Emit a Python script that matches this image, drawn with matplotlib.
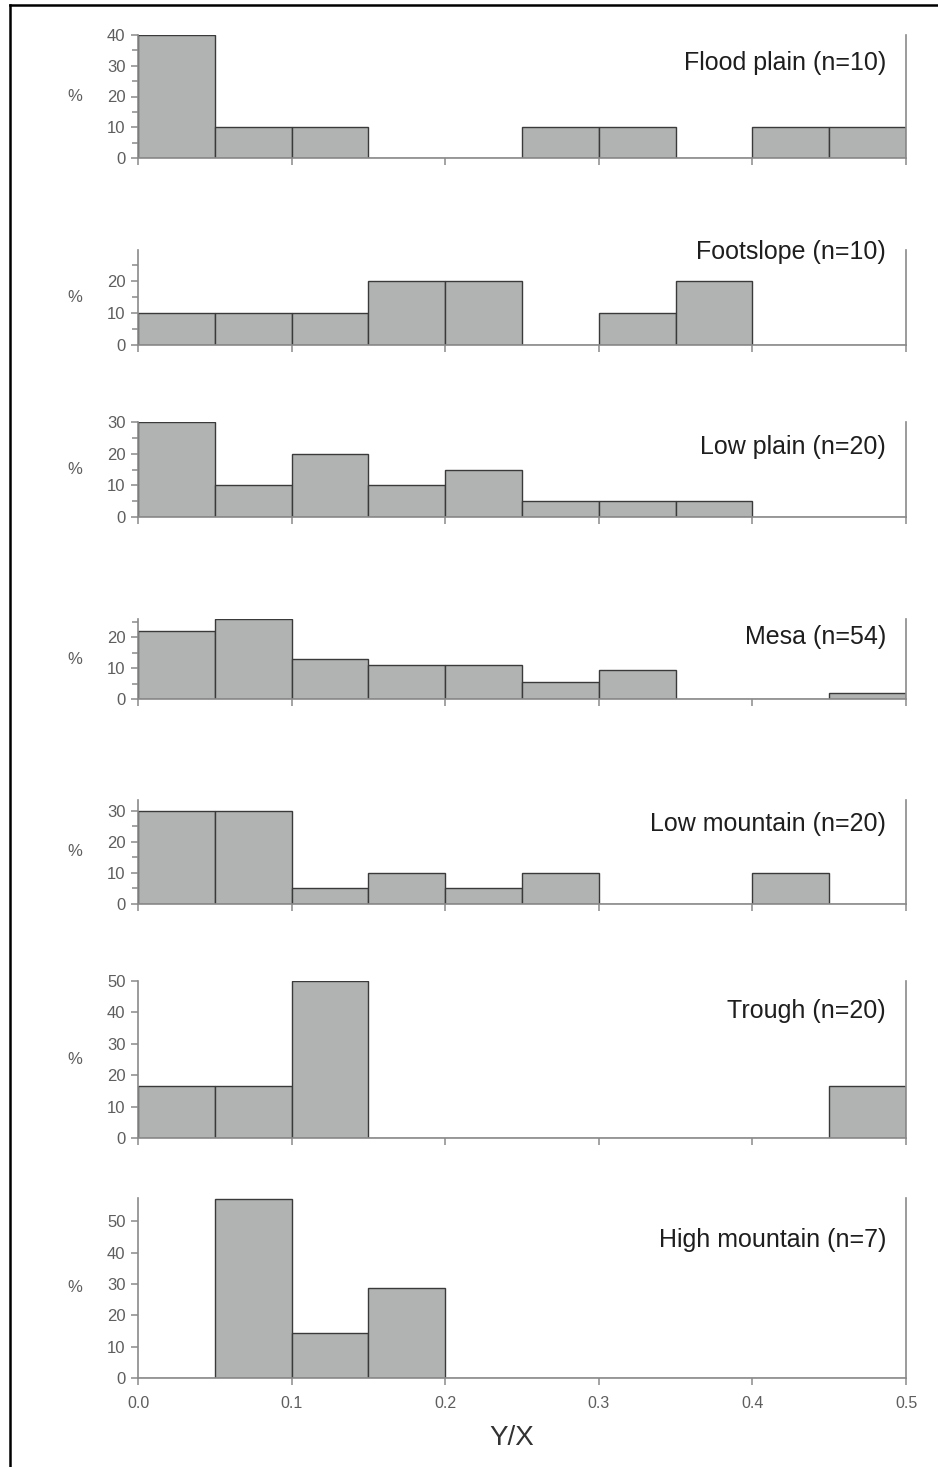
import matplotlib.pyplot as plt
from matplotlib.ticker import MultipleLocator, NullLocator
from matplotlib.lines import Line2D
import numpy as np

plt.rcParams['font.family'] = ['Liberation Sans', 'DejaVu Sans']

# Y/X histogram bins, 0.05 wide from 0.0 to 0.5
bin_edges = [0.0, 0.05, 0.10, 0.15, 0.20, 0.25, 0.30, 0.35, 0.40, 0.45, 0.50]

landforms = ["Flood plain (n=10)", "Footslope (n=10)", "Low plain (n=20)",
             "Mesa (n=54)", "Low mountain (n=20)", "Trough (n=20)",
             "High mountain (n=7)"]

flood_plain = [40, 10, 10, 0, 0, 10, 10, 0, 10, 10]
footslope = [10, 10, 10, 20, 20, 0, 10, 20, 0, 0]
low_plain = [30, 10, 20, 10, 15, 5, 5, 5, 0, 0]
mesa = [22.2, 25.9, 13.0, 11.1, 11.1, 5.6, 9.3, 0, 0, 1.85]
low_mountain = [30, 30, 5, 10, 5, 10, 0, 0, 10, 0]
trough = [16.7, 16.7, 50, 0, 0, 0, 0, 0, 0, 16.7]
high_mountain = [0, 57.1, 14.3, 28.6, 0, 0, 0, 0, 0, 0]

series = [flood_plain, footslope, low_plain, mesa, low_mountain, trough, high_mountain]

# panel layout in pixels: (zero line y, top y, y max, minor ticks, title y in data units)
W, H = 938, 1467
layout = [
    (158, 35, 40, True, 30.8),
    (345, 250, 29.8, True, 29.2),
    (517, 422, 30, True, 22),
    (699, 619, 26, True, 20),
    (904, 800, 33.5, True, 25.9),
    (1138, 981, 50, False, 40.3),
    (1378, 1198, 57.5, False, 44),
]
x0_px, x1_px = 138, 906
ax_w = x1_px - x0_px

fig = plt.figure(figsize=(W / 100, H / 100), dpi=100)

bar_fill = "#b0b3b1"
bar_edge = "#3a3a3a"
axis_col = "#8a8a8a"
tick_col = "#5e5e5e"

edges = np.array(bin_edges)
widths = np.diff(edges)

for i, (vals, name, (ybot, ytop, ymax, minor, ty)) in enumerate(zip(series, landforms, layout)):
    ax = fig.add_axes([x0_px / W, 1 - ybot / H, ax_w / W, (ybot - ytop) / H])
    ax.bar(edges[:-1], vals, width=widths, align='edge', color=bar_fill,
           edgecolor=bar_edge, linewidth=1.0, zorder=2)
    ax.set_xlim(0, 0.5)
    ax.set_ylim(0, ymax)

    ax.spines['top'].set_visible(False)
    for s in ['left', 'right', 'bottom']:
        ax.spines[s].set_color(axis_col)
        ax.spines[s].set_linewidth(1.2)

    ax.yaxis.set_major_locator(MultipleLocator(10))
    if minor:
        ax.yaxis.set_minor_locator(MultipleLocator(5))
    ax.xaxis.set_major_locator(MultipleLocator(0.1))
    ax.xaxis.set_minor_locator(NullLocator())
    ax.tick_params(axis='both', which='major', direction='out', length=5,
                   width=1.1, color=axis_col, labelcolor=tick_col, labelsize=12, pad=4)
    ax.tick_params(axis='y', which='minor', direction='out', length=4,
                   width=1.1, color=axis_col)
    ax.tick_params(axis='x', pad=8, labelsize=11.5)

    if i < len(series) - 1:
        ax.set_xticklabels([])
    else:
        ax.xaxis.set_major_formatter(plt.FuncFormatter(lambda v, p: f"{v:.1f}"))
        ax.set_xlabel("Y/X", fontsize=20, color="#333333", va='center')
        ax.xaxis.set_label_coords((512 - x0_px) / ax_w, -(1438 - ybot) / (ybot - ytop))

    ax.text(-(x0_px - 75) / ax_w, 0.5, "%", transform=ax.transAxes,
            ha='center', va='center', fontsize=12, color=tick_col)
    ax.text(1 - 20 / ax_w, ty, name, transform=ax.get_yaxis_transform(),
            ha='right', va='center', fontsize=18, color="#1e1e1e")

# frame round the figure
fig.add_artist(Line2D([10 / W, 10 / W], [0, 1 - 5 / H], color='black', linewidth=1.8,
                      transform=fig.transFigure))
fig.add_artist(Line2D([10 / W, 1], [1 - 5 / H, 1 - 5 / H], color='black', linewidth=1.8,
                      transform=fig.transFigure))

fig.savefig("out.png", dpi=100, facecolor="white")
